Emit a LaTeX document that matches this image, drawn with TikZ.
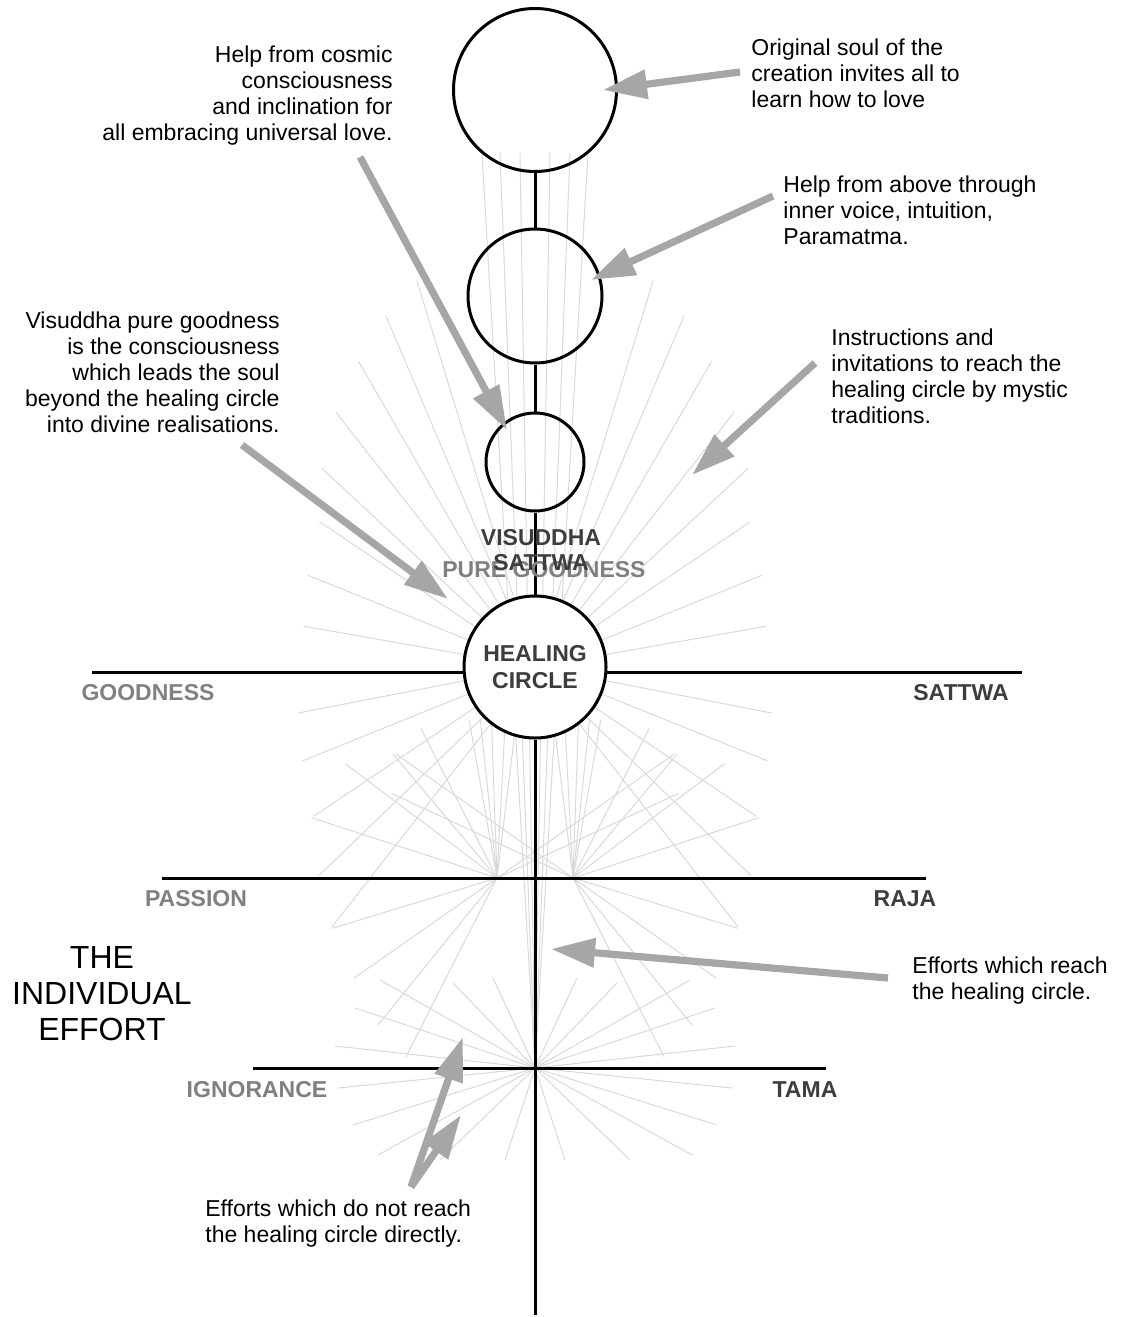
\documentclass[tikz,border=0pt]{standalone}
\usepackage{fontspec}
\setmainfont{Liberation Sans}
\usetikzlibrary{arrows.meta,calc}
\begin{document}
\begin{tikzpicture}[x=0.5pt,y=-0.5pt,
  ray/.style={draw=black!15, line width=0.5pt},
  mainline/.style={draw=black, line width=1.5pt},
  ring/.style={circle, draw=black, line width=1.5pt, inner sep=0pt},
  note/.style={font=\fontsize{11.5}{13}\selectfont, inner sep=0pt, text=black},
  lab/.style={font=\bfseries\fontsize{11.5}{12.8}\selectfont, inner sep=0pt, align=center},
  graylab/.style={lab, text=black!50},
  darklab/.style={lab, text=black!76},
  pointer/.style={draw=black!35, line width=3.6pt, -{Triangle[length=22pt,width=14pt]}},
]
\useasboundingbox (0,0) rectangle (1122,1317);

% ---------- light rays ----------
% rays from the healing circle
\foreach \a/\r in {107/404,113/382,120/353,128/323,137/291,146/260,158/245,170/235,191/241,202/251,214/267,224/300,232/330} {
  \draw[ray] (535,667) -- ({535+\r*cos(\a)},{667-\r*sin(\a)});
  \draw[ray] (535,667) -- ({535-\r*cos(\a)},{667-\r*sin(\a)});
}
% long rays from the ignorance centre up to the original soul
\foreach \d in {15,35,53} {
  \draw[ray] (535,1068) -- ({535-\d},153);
  \draw[ray] (535,1068) -- ({535+\d},153);
}
% short star around the ignorance centre
\foreach \x/\y in {335/1046,355/1008,380/980,453/983,493/978,338/1088,353/1125,378/1155,440/1160,505/1160} {
  \draw[ray] (535,1068) -- (\x,\y);
  \draw[ray] (535,1068) -- ({1070-\x},\y);
}
% rays from the two focal points on the passion line
\foreach \a/\r in {162/195,143/190,130/162,117/168,100/160,96/160,92/160,87/160,83/160,35/216,25/200,197/172,215/175,231/189,243/201} {
  \draw[ray] (497,878) -- ({497+\r*cos(\a)},{878-\r*sin(\a)});
  \draw[ray] (573,878) -- ({573-\r*cos(\a)},{878-\r*sin(\a)});
}

% ---------- horizontal levels ----------
\coordinate (gL) at (92,672);   \coordinate (gR) at (1022,672);
\coordinate (pL) at (162,878);  \coordinate (pR) at (926,878);
\coordinate (iL) at (253,1068); \coordinate (iR) at (826,1068);
\coordinate (bot) at (535,1315);
\draw[mainline] (gL) -- (gR);
\draw[mainline] (pL) -- (pR);
\draw[mainline] (iL) -- (iR);

% ---------- circles ----------
\node[ring, minimum size=81.5pt] (c1) at (535,90) {};
\node[ring, minimum size=67pt] (c2) at (535,296) {};
\node[ring, minimum size=49pt] (c3) at (535,462) {};
\node[ring, minimum size=71pt, fill=white, darklab, draw=black] (hc) at (535,667) {HEALING\\[0.3pt]CIRCLE};

\draw[mainline] (c1.south) -- (c2.north);
\draw[mainline] (c2.south) -- (c3.north);
\draw[mainline] (c3.south) -- (hc.north);
\draw[mainline] (hc.south) -- (bot);

% ---------- level labels ----------
\node[graylab] (goodness) at (148,693) {GOODNESS};
\node[darklab] (sattwa) at (961,693) {SATTWA};
\node[graylab] (passion) at (196,899) {PASSION};
\node[darklab] (raja) at (905,899) {RAJA};
\node[graylab] (ignorance) at (257,1090) {IGNORANCE};
\node[darklab] (tama) at (805,1090) {TAMA};
\node[graylab] (pure) at (544,570) {PURE GOODNESS};
\node[darklab] (visuddha) at (541,550) {VISUDDHA\\SATTWA};

\node[inner sep=0pt, align=center, font=\fontsize{16}{18}\selectfont, anchor=north] (effort) at (102,946) {THE\\INDIVIDUAL\\EFFORT};

% ---------- annotations ----------
\node[note, align=right, anchor=north east] (tCosmic) at (393,45) {Help from cosmic\\consciousness\\and inclination for\\all embracing universal love.};
\node[note, align=left, anchor=north west] (tOrig) at (751,38) {Original soul of the\\creation invites all to\\learn how to love};
\node[note, align=left, anchor=north west] (tAbove) at (783,175) {Help from above through\\inner voice, intuition,\\Paramatma.};
\node[note, align=right, anchor=north east] (tVis) at (280,311) {Visuddha pure goodness\\is the consciousness\\which leads the soul\\beyond the healing circle\\into divine realisations.};
\node[note, align=left, anchor=north west] (tInstr) at (831,328) {Instructions and\\invitations to reach the\\healing circle by mystic\\traditions.};
\node[note, align=left, anchor=north west] (tReach) at (912,956) {Efforts which reach\\the healing circle.};
\node[note, align=left, anchor=north west] (tNot) at (205,1199) {Efforts which do not reach\\the healing circle directly.};

% ---------- pointers ----------
\coordinate (a1s) at (740,72);  \coordinate (a1e) at (603,90);
\coordinate (a2s) at (773,196); \coordinate (a2e) at (591,280);
\coordinate (a3s) at (360,157); \coordinate (a3e) at (507,430);
\coordinate (a4s) at (815,363); \coordinate (a4e) at (692,475);
\coordinate (a5s) at (242,445); \coordinate (a5e) at (448,599);
\coordinate (a6s) at (888,978); \coordinate (a6e) at (551,949);
\coordinate (a7s) at (411,1187); \coordinate (a7e) at (463,1037);
\coordinate (a8e) at (461,1115);
\draw[pointer] (a1s) -- (a1e);
\draw[pointer] (a2s) -- (a2e);
\draw[pointer] (a3s) -- (a3e);
\draw[pointer] (a4s) -- (a4e);
\draw[pointer] (a5s) -- (a5e);
\draw[pointer] (a6s) -- (a6e);
\draw[pointer] (a7s) -- (a7e);
\draw[pointer] (a7s) -- (a8e);
\end{tikzpicture}
\end{document}
